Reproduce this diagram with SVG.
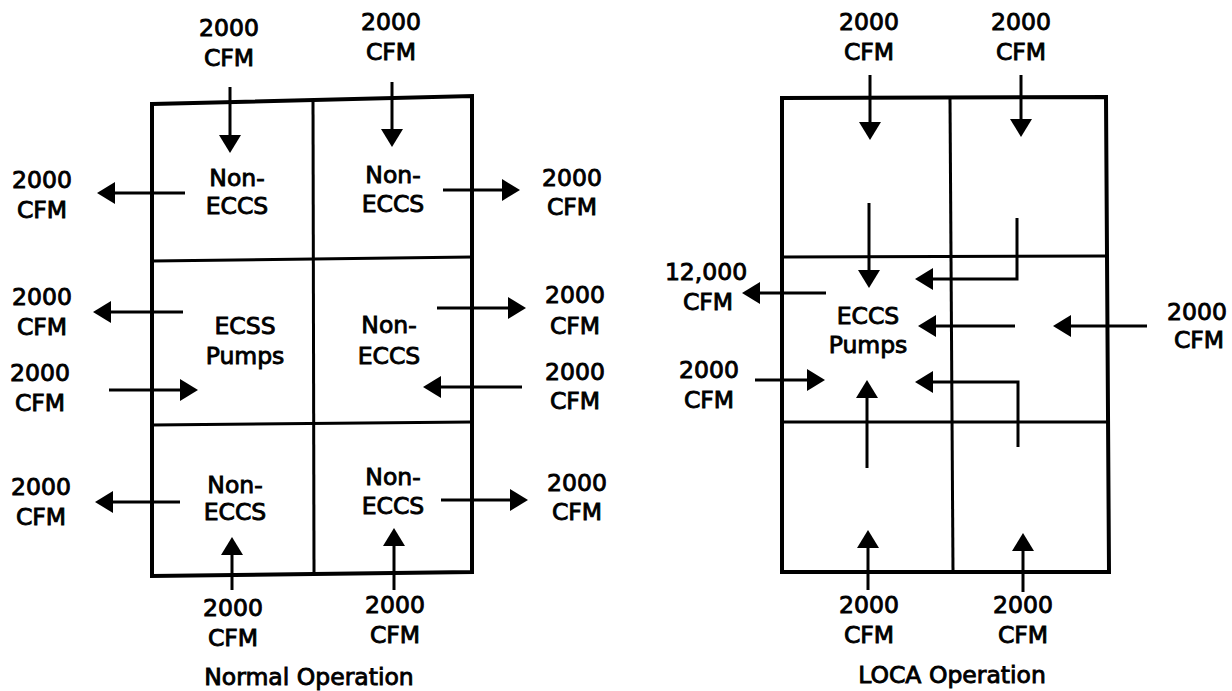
<svg xmlns="http://www.w3.org/2000/svg" width="1232" height="691" viewBox="0 0 1232 691">
<style>
.frame{fill:none;stroke:#000;stroke-width:4;stroke-linejoin:miter}
.div{fill:none;stroke:#000;stroke-width:3}
.arr{fill:none;stroke:#000;stroke-width:3;marker-end:url(#ah)}
text{font-family:"DejaVu Sans","Liberation Sans",sans-serif;font-size:23.5px;fill:#000;stroke:#000;stroke-width:0.9;text-anchor:middle}
</style>
<defs>
<marker id="ah" markerUnits="userSpaceOnUse" markerWidth="18" markerHeight="22" refX="8" refY="11" orient="auto" overflow="visible">
<path d="M0,0 L18,11 L0,22 Z" fill="#000"/>
</marker>
</defs>
<rect width="1232" height="691" fill="#fff"/>

<g id="normal-frame">
<path class="frame" d="M152,104 L472,96 L472,572 L152,576 Z"/>
<path class="div" d="M313,100 L314,574"/>
<path class="div" d="M152,261 L472,257"/>
<path class="div" d="M152,425 L472,422"/>
</g>

<g id="loca-frame">
<path class="frame" d="M782,98 L1106,97 L1109,572 L782,572 Z"/>
<path class="div" d="M950,98 L953,572"/>
<path class="div" d="M782,257 L1107,256"/>
<path class="div" d="M782,422 L1108,422"/>
</g>

<g id="connectors">
<path class="arr" d="M230,87 V143"/>
<path class="arr" d="M392,82 V137"/>
<path class="arr" d="M185,193 H107"/>
<path class="arr" d="M443,190 H510"/>
<path class="arr" d="M183,312 H103"/>
<path class="arr" d="M437,308 H516"/>
<path class="arr" d="M109,390 H188"/>
<path class="arr" d="M522,387 H433"/>
<path class="arr" d="M180,502 H105"/>
<path class="arr" d="M441,500 H518"/>
<path class="arr" d="M232,590 V547"/>
<path class="arr" d="M394,590 V538"/>

<path class="arr" d="M870,75 V130"/>
<path class="arr" d="M1021,75 V127"/>
<path class="arr" d="M869,203 V278"/>
<path class="arr" d="M1017,218 V279 H925"/>
<path class="arr" d="M1015,326 H928"/>
<path class="arr" d="M1018,447 V382 H925"/>
<path class="arr" d="M867,468 V390"/>
<path class="arr" d="M826,293 H752"/>
<path class="arr" d="M755,380 H815"/>
<path class="arr" d="M1147,326 H1063"/>
<path class="arr" d="M868,590 V540"/>
<path class="arr" d="M1023,592 V543"/>
</g>

<g id="n-cell-tl"><text x="237" y="186">Non-</text><text x="237" y="214">ECCS</text></g>
<g id="n-cell-tr"><text x="393" y="183">Non-</text><text x="393" y="212">ECCS</text></g>
<g id="n-cell-ml"><text x="245" y="334">ECSS</text><text x="245" y="364">Pumps</text></g>
<g id="n-cell-mr"><text x="389" y="333">Non-</text><text x="389" y="364">ECCS</text></g>
<g id="n-cell-bl"><text x="235" y="493">Non-</text><text x="235" y="520">ECCS</text></g>
<g id="n-cell-br"><text x="393" y="485">Non-</text><text x="393" y="514">ECCS</text></g>

<g id="n-in-t1"><text x="229" y="36">2000</text><text x="229" y="66">CFM</text></g>
<g id="n-in-t2"><text x="391" y="30">2000</text><text x="391" y="60">CFM</text></g>
<g id="n-out-l1"><text x="42" y="188">2000</text><text x="42" y="218">CFM</text></g>
<g id="n-out-r1"><text x="572" y="186">2000</text><text x="572" y="215">CFM</text></g>
<g id="n-out-l2"><text x="42" y="305">2000</text><text x="42" y="335">CFM</text></g>
<g id="n-out-r2"><text x="575" y="303">2000</text><text x="575" y="334">CFM</text></g>
<g id="n-in-l"><text x="40" y="381">2000</text><text x="40" y="411">CFM</text></g>
<g id="n-in-r"><text x="575" y="380">2000</text><text x="575" y="409">CFM</text></g>
<g id="n-out-l3"><text x="41" y="495">2000</text><text x="41" y="525">CFM</text></g>
<g id="n-out-r3"><text x="577" y="491">2000</text><text x="577" y="520">CFM</text></g>
<g id="n-in-b1"><text x="233" y="616">2000</text><text x="233" y="646">CFM</text></g>
<g id="n-in-b2"><text x="395" y="613">2000</text><text x="395" y="643">CFM</text></g>
<g id="n-title"><text x="309" y="685">Normal Operation</text></g>

<g id="l-cell-pumps"><text x="868" y="324">ECCS</text><text x="868" y="353">Pumps</text></g>
<g id="l-in-t1"><text x="869" y="30">2000</text><text x="869" y="60">CFM</text></g>
<g id="l-in-t2"><text x="1021" y="30">2000</text><text x="1021" y="60">CFM</text></g>
<g id="l-out"><text x="706" y="280">12,000</text><text x="708" y="310">CFM</text></g>
<g id="l-in-l"><text x="709" y="378">2000</text><text x="709" y="408">CFM</text></g>
<g id="l-in-r"><text x="1197" y="320">2000</text><text x="1199" y="348">CFM</text></g>
<g id="l-in-b1"><text x="869" y="613">2000</text><text x="869" y="643">CFM</text></g>
<g id="l-in-b2"><text x="1023" y="613">2000</text><text x="1023" y="643">CFM</text></g>
<g id="l-title"><text x="952" y="683">LOCA Operation</text></g>
</svg>
